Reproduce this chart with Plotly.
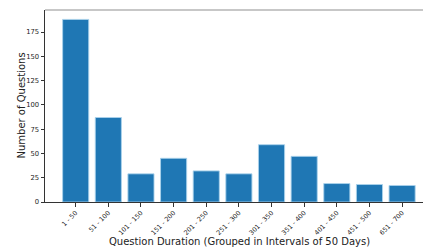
import plotly.graph_objects as go

categories = ["1 - 50", "51 - 100", "101 - 150", "151 - 200", "201 - 250", "251 - 300",
              "301 - 350", "351 - 400", "401 - 450", "451 - 500", "651 - 700"]
counts = [188, 87, 29, 45, 32, 29, 59, 47, 19, 18, 17]
y_ticks = [0, 25, 50, 75, 100, 125, 150, 175]

xs = list(range(len(categories)))

fig = go.Figure(go.Bar(
    x=xs, y=counts, width=0.8,
    marker=dict(color="#1f77b4", line=dict(color="rgba(170,210,235,0.9)", width=1)),
))

font_family = "DejaVu Sans"
W, H = 423, 250
L, R, T, B = 45, 0, 10, 48
pw, ph = W - L - R, H - T - B

fig.update_layout(
    width=W, height=H,
    margin=dict(l=L, r=R, t=T, b=B, autoexpand=False),
    paper_bgcolor="white", plot_bgcolor="white",
    showlegend=False,
    font=dict(family=font_family, color="#262626"),
    xaxis=dict(
        range=[-0.94, 10.64], automargin=False,
        tickmode="array", tickvals=xs, ticktext=categories,
        tickangle=-45, tickfont=dict(size=6.5, color="#222"),
        ticks="outside", ticklen=3.5, tickcolor="#333",
        showline=True, linecolor="#333", linewidth=1,
        showgrid=False, zeroline=False,
    ),
    yaxis=dict(
        range=[0, 197.7], automargin=False,
        tickmode="array", tickvals=y_ticks,
        tickfont=dict(size=6.8, color="#222"),
        ticks="outside", ticklen=3.5, tickcolor="#333",
        showline=True, linecolor="#333", linewidth=1,
        showgrid=False, zeroline=False,
    ),
    shapes=[dict(type="line", xref="paper", yref="paper", x0=0, x1=1, y0=1, y1=1,
                 line=dict(color="#b5b5b5", width=1.5))],
    annotations=[
        dict(text="Question Duration (Grouped in Intervals of 50 Days)",
             xref="paper", yref="paper", x=(239 - L) / pw, y=(H - B - 241) / ph,
             xanchor="center", yanchor="middle", showarrow=False,
             font=dict(size=10, color="#222")),
        dict(text="Number of Questions", textangle=-90,
             xref="paper", yref="paper", x=(20.5 - L) / pw, y=0.5,
             xanchor="center", yanchor="middle", showarrow=False,
             font=dict(size=10, color="#222")),
    ],
)

fig.write_html("out.html", config={"displayModeBar": False},
               post_script="document.body.style.margin='0';document.body.style.overflow='hidden';")
